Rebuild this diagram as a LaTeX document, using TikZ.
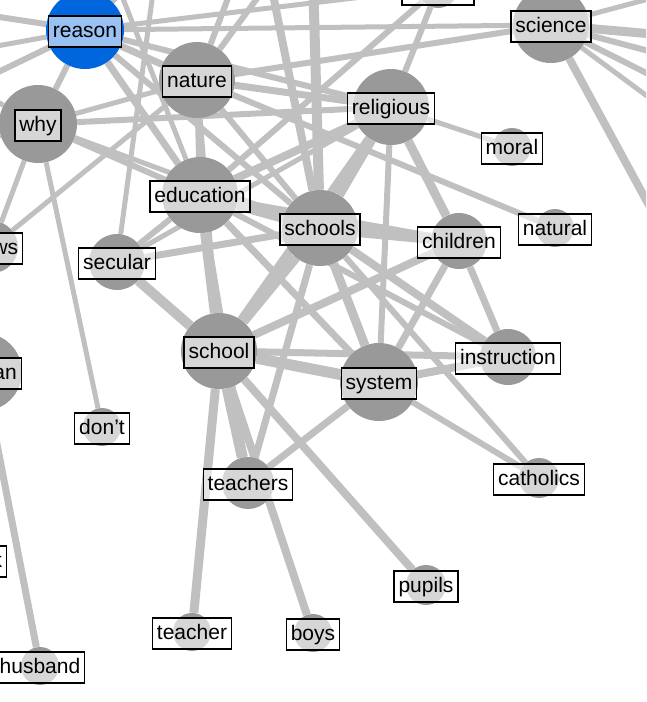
\documentclass[tikz,border=0pt]{standalone}
\usepackage{fontspec}
\setmainfont{Liberation Sans}
\pgfdeclarelayer{background}
\pgfsetlayers{background,main}
\definecolor{edgegray}{RGB}{192,192,192}
\definecolor{nodegray}{RGB}{153,153,153}
\definecolor{hotblue}{RGB}{0,102,221}
\tikzset{
  term/.style={circle, fill=nodegray, inner sep=0pt, minimum size=#1},
  termlbl/.style={draw=black, line width=1.4pt, fill=white, fill opacity=0.6, text opacity=1,
    inner xsep=4.5pt, inner ysep=0pt, text height=16pt, text depth=5pt, minimum height=31pt,
    yshift=-1.5pt, font=\fontsize{21}{24}\selectfont},
  link/.style={draw=edgegray, line width=#1pt},
}
\begin{document}
\begin{tikzpicture}[x=1pt, y=-1pt]
\useasboundingbox (0,0) rectangle (646,702);
\clip (0,0) rectangle (646,702);
% terms
\node[term=78, fill=hotblue, label={[termlbl]center:reason}] (reason) at (85,30) {};
\node[term=76, label={[termlbl]center:nature}] (nature) at (197,80) {};
\node[term=78, label={[termlbl]center:why}] (why) at (38,124) {};
\node[term=76, label={[termlbl]center:education}] (education) at (200,195) {};
\node[term=76, label={[termlbl]center:schools}] (schools) at (320,228) {};
\node[term=76, label={[termlbl]center:religious}] (religious) at (391,107) {};
\node[term=76, label={[termlbl]center:science}] (science) at (551,25) {};
\node[term=38, label={[termlbl]center:moral}] (moral) at (512,147) {};
\node[term=38, label={[termlbl]center:natural}] (natural) at (555,228) {};
\node[term=56, label={[termlbl]center:children}] (children) at (459,241) {};
\node[term=56, label={[termlbl]center:instruction}] (instruction) at (508,357) {};
\node[term=78, label={[termlbl]center:system}] (system) at (379,382) {};
\node[term=76, label={[termlbl]center:school}] (school) at (219,351) {};
\node[term=56, label={[termlbl]center:secular}] (secular) at (117,262) {};
\node[term=52, label={[termlbl]center:views}] (views) at (-8,247) {};
\node[term=78, label={[termlbl]center:woman}] (woman) at (-17,372) {};
\node[term=38, label={[termlbl]center:don't}] (dont) at (102,427) {};
\node[term=52, label={[termlbl]center:teachers}] (teachers) at (248,483) {};
\node[term=38, label={[termlbl]center:teacher}] (teacher) at (192,632) {};
\node[term=38, label={[termlbl]center:boys}] (boys) at (313,633) {};
\node[term=38, label={[termlbl]center:husband}] (husband) at (40,666) {};
\node[term=38, label={[termlbl]center:work}] (work) at (-20,560) {};
\node[term=40, label={[termlbl]center:pupils}] (pupils) at (426,585) {};
\node[term=40, label={[termlbl]center:catholics}] (catholics) at (539,478) {};
\node[term=40, label={[termlbl]center:church}] (church) at (438,-12) {};
% ends outside the frame
\coordinate (offL1) at (-80,5);
\coordinate (offL2) at (-80,60);
\coordinate (offL3) at (-80,110);
\coordinate (offL4) at (-80,160);
\coordinate (offT1) at (170,-60);
\coordinate (offT2) at (20,-60);
\coordinate (offT3) at (250,-60);
\coordinate (offT4) at (100,-60);
\coordinate (offT5) at (312,-60);
\coordinate (offT6) at (160,-60);
\coordinate (offT7) at (262,-60);
\coordinate (offT8) at (300,-60);
\coordinate (offR1) at (720,40);
\coordinate (offR2) at (720,70);
\coordinate (offR3) at (720,110);
\coordinate (offR4) at (720,336);
\coordinate (offR5) at (720,-20);
\coordinate (offR6) at (720,150);
\begin{pgfonlayer}{background}
\clip (0,0) rectangle (646,702);
\foreach \a/\b/\w in {
  reason/nature/7, reason/why/6, reason/religious/6, reason/science/5,
  reason/education/7, reason/schools/6, reason/church/5,
  reason/offL1/6, reason/offL2/5, reason/offL3/6, reason/offT1/6, reason/offT2/5,
  why/nature/5, why/education/6, why/schools/5, why/religious/6,
  why/views/5, why/dont/5, why/offL4/5, why/offL2/5,
  nature/education/6, nature/religious/7, nature/schools/6, nature/science/6,
  nature/views/5, nature/natural/6, nature/offT3/6, nature/school/5, nature/offT8/6,
  education/secular/6, education/school/9, education/schools/10, education/religious/8,
  education/system/7, education/teachers/7, education/instruction/6,
  education/children/6, education/church/6, education/offT4/5,
  schools/religious/9, schools/offT5/10, schools/children/11, schools/system/9,
  schools/school/10, schools/instruction/8, schools/secular/7,
  schools/teachers/7, schools/catholics/6, schools/offT7/8,
  religious/moral/5, religious/children/9, religious/system/6,
  religious/school/8, religious/church/6, religious/secular/5,
  science/offR1/9, science/offR2/6, science/offR3/6, science/offR4/8,
  science/offR5/5, science/offR6/5,
  children/system/7, children/instruction/7, children/school/8,
  system/school/11, system/instruction/8, system/teachers/7, system/catholics/6,
  school/teacher/9, school/teachers/11, school/boys/8, school/pupils/8,
  school/instruction/7, school/secular/10, secular/offT6/5,
  woman/husband/7, woman/views/5}
  \draw[link=\w] (\a) -- (\b);
\end{pgfonlayer}
\end{tikzpicture}
\end{document}
